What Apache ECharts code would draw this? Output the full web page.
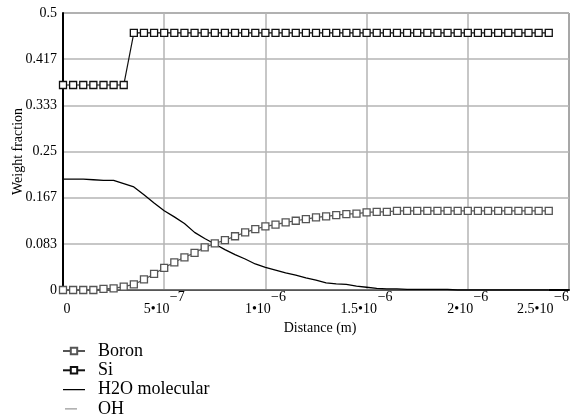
<!DOCTYPE html>
<html>
<head>
<meta charset="utf-8">
<script src="https://cdn.jsdelivr.net/npm/echarts@6/dist/echarts.min.js"></script>
<style>
html,body{margin:0;padding:0;background:#fff;}
#chart{width:572px;height:416px;}
</style>
</head>
<body>
<div id="chart"></div>
<script>
// distance in micrometres (converted to metres below)
var distanceUm = [0,0.05,0.1,0.15,0.2,0.25,0.3,0.35,0.4,0.45,0.5,0.55,0.6,0.65,0.7,0.75,0.8,0.85,0.9,0.95,1.0,1.05,1.1,1.15,1.2,1.25,1.3,1.35,1.4,1.45,1.5,1.55,1.6,1.65,1.7,1.75,1.8,1.85,1.9,1.95,2.0,2.05,2.1,2.15,2.2,2.25,2.3,2.35,2.4];
var boron = [0,0,0,0,0.002,0.003,0.006,0.010,0.019,0.029,0.040,0.050,0.059,0.067,0.077,0.084,0.090,0.097,0.104,0.110,0.115,0.118,0.122,0.125,0.128,0.131,0.133,0.135,0.137,0.138,0.140,0.141,0.141,0.143,0.143,0.143,0.143,0.143,0.143,0.143,0.143,0.143,0.143,0.143,0.143,0.143,0.143,0.143,0.143];
var si = [0.370,0.370,0.370,0.370,0.370,0.370,0.370,0.464,0.464,0.464,0.464,0.464,0.464,0.464,0.464,0.464,0.464,0.464,0.464,0.464,0.464,0.464,0.464,0.464,0.464,0.464,0.464,0.464,0.464,0.464,0.464,0.464,0.464,0.464,0.464,0.464,0.464,0.464,0.464,0.464,0.464,0.464,0.464,0.464,0.464,0.464,0.464,0.464,0.464];
var h2o = [0.200,0.200,0.200,0.199,0.198,0.198,0.192,0.186,0.172,0.157,0.143,0.132,0.120,0.104,0.093,0.083,0.073,0.064,0.056,0.047,0.041,0.036,0.031,0.027,0.022,0.018,0.013,0.011,0.010,0.007,0.005,0.003,0.002,0.002,0.001,0.001,0.001,0.001,0.001,0,0,0,0,0,0,0,0,0,0];
var oh = [0,0,0,0,0,0,0,0,0,0,0,0,0,0,0,0,0,0,0,0,0,0,0,0,0,0,0,0,0,0,0,0,0,0,0,0,0,0,0,0,0,0,0,0,0,0,0,0,0];
var yTickLabels = ['0','0.083','0.167','0.25','0.333','0.417','0.5'];
var xTickMant = ['0','5\u202210','1\u202210','1.5\u202210','2\u202210','2.5\u202210'];
var xTickExp = ['','\u22127','\u22126','\u22126','\u22126','\u22126'];

function pairs(ys){ return ys.map(function(v,i){ return [distanceUm[i]*1e-6, v]; }); }

var FONT = '"Liberation Serif","Times New Roman",serif';
var ctx = document.createElement('canvas').getContext('2d');
ctx.font = '14px ' + FONT;
function tw(s){ return Math.ceil(ctx.measureText(s).width); }

var lineIcon = 'path://M0,0L22,0L22,0.01L0,0.01Z M0,3.4L22,3.4L22,4.6L0,4.6Z M0,8L22,8L22,8.01L0,8.01Z';
var shortIcon = 'path://M0,0L22,0L22,0.01L0,0.01Z M2,3.4L14,3.4L14,4.6L2,4.6Z M0,8L22,8L22,8.01L0,8.01Z';

var chart = echarts.init(document.getElementById('chart'));
chart.setOption({
  animation:false,
  backgroundColor:'#fff',
  grid:{left:63,right:2,top:13,bottom:126,show:true,borderColor:'#000',borderWidth:1,backgroundColor:'transparent'},
  xAxis:{
    type:'value',min:0,max:2.5e-6,interval:5e-7,
    name:'Distance (m)',nameLocation:'middle',nameGap:23,
    nameTextStyle:{fontFamily:FONT,fontSize:14,color:'#000',padding:[0,0,0,8]},
    axisLine:{show:true,lineStyle:{color:'#000',width:2}},
    axisTick:{show:false},
    splitLine:{show:true,lineStyle:{color:'#b4b4b4',width:1.5}},
    axisLabel:{
      margin:2,alignMaxLabel:'right',
      formatter:function(v){
        var i = Math.round(v/5e-7);
        var m = xTickMant[i], e = xTickExp[i];
        if(!e) return '{e| }\n{z|' + m + '}';
        var W = tw(m) + tw(e);
        return '{e' + W + '|' + e + '}\n{m' + W + '|' + m + '}';
      },
      rich:(function(){
        var r = {
          z:{fontFamily:FONT,fontSize:14,color:'#000',lineHeight:14,padding:[0,0,0,8]},
          e:{fontFamily:FONT,fontSize:14,color:'#000',lineHeight:10}
        };
        for (var i=1;i<xTickMant.length;i++){
          var W = tw(xTickMant[i]) + tw(xTickExp[i]);
          r['m'+W] = {fontFamily:FONT,fontSize:14,color:'#000',lineHeight:14,width:W,align:'left'};
          r['e'+W] = {fontFamily:FONT,fontSize:14,color:'#000',lineHeight:10,width:W,align:'right'};
        }
        return r;
      })()
    }
  },
  yAxis:{
    type:'value',min:0,max:0.5,interval:0.5/6,
    name:'Weight fraction',nameLocation:'middle',nameGap:38,nameMoveOverlap:false,
    nameTextStyle:{fontFamily:FONT,fontSize:14,color:'#000'},
    axisLine:{show:true,lineStyle:{color:'#000',width:2}},
    axisTick:{show:false},
    splitLine:{show:true,lineStyle:{color:'#b4b4b4',width:1.5}},
    axisLabel:{
      margin:6,fontFamily:FONT,fontSize:14,color:'#000',
      formatter:function(v){ return yTickLabels[Math.round(v*12)]; }
    }
  },
  legend:{
    orient:'vertical',left:62,top:342,height:120,padding:0,itemWidth:22,itemHeight:8,itemGap:1.3,
    textStyle:{fontFamily:FONT,fontSize:18,color:'#000',padding:[0,0,0,8]},
    data:[
      {name:'Boron'},
      {name:'Si'},
      {name:'H2O molecular',icon:lineIcon},
      {name:'OH',icon:shortIcon}
    ]
  },
  series:[
    {name:'OH',type:'line',data:pairs(oh),symbol:'none',lineStyle:{color:'#999',width:1.5},itemStyle:{color:'#999'},z:1},
    {name:'H2O molecular',type:'line',data:pairs(h2o),symbol:'none',lineStyle:{color:'#000',width:1.3},itemStyle:{color:'#000'},z:2},
    {name:'Boron',type:'line',data:pairs(boron),symbol:'rect',symbolSize:7,showAllSymbol:true,
      lineStyle:{color:'#555',width:1.2},itemStyle:{color:'#fff',borderColor:'#555',borderWidth:1.3},z:3},
    {name:'Si',type:'line',data:pairs(si),symbol:'rect',symbolSize:7,showAllSymbol:true,
      lineStyle:{color:'#111',width:1.2},itemStyle:{color:'#fff',borderColor:'#111',borderWidth:1.3},z:3}
  ]
});
</script>
</body>
</html>
